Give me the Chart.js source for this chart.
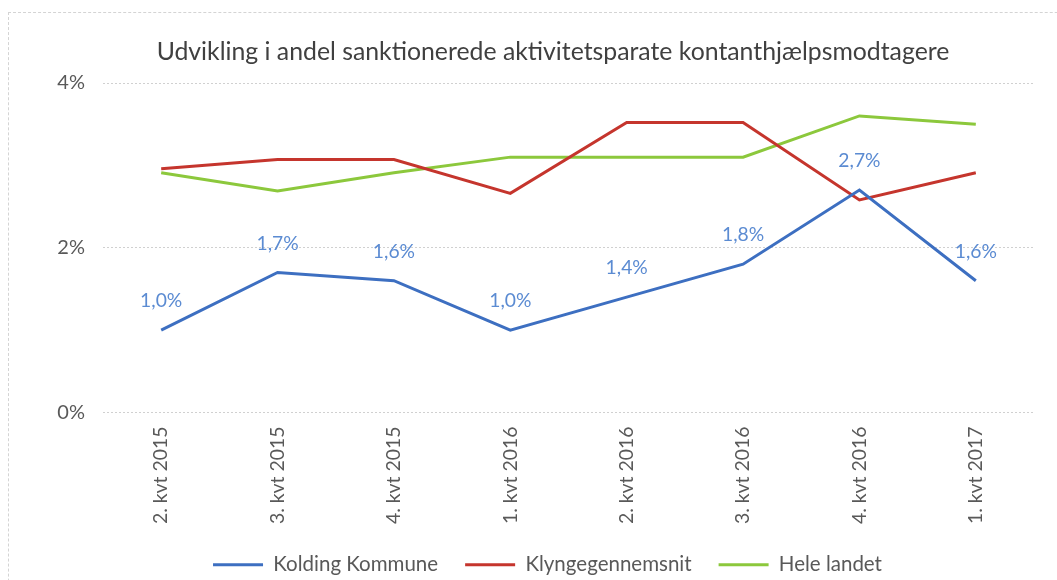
<!DOCTYPE html>
<html>
<head>
<meta charset="utf-8">
<script src="https://cdn.jsdelivr.net/npm/chart.js@4.4.1/dist/chart.umd.min.js"></script>
<style>
  html, body { margin: 0; padding: 0; background: #ffffff; }
  body { width: 1057px; height: 580px; position: relative; overflow: hidden; }
  #frame { position: absolute; left: 8px; top: 12px; width: 1200px; height: 700px; border: 1px dashed #d4d4d4; box-sizing: border-box; }
  #wrap { position: absolute; left: 0; top: 0; width: 1057px; height: 580px; }
</style>
</head>
<body>
<div id="frame"></div>
<div id="wrap"><canvas id="c" width="1057" height="580"></canvas></div>
<script>
const categories = ["2. kvt 2015", "3. kvt 2015", "4. kvt 2015", "1. kvt 2016", "2. kvt 2016", "3. kvt 2016", "4. kvt 2016", "1. kvt 2017"];
const kolding = [1.0, 1.7, 1.6, 1.0, 1.4, 1.8, 2.7, 1.6];
const klynge = [2.96, 3.07, 3.07, 2.66, 3.52, 3.52, 2.58, 2.91];
const heleLandet = [2.91, 2.69, 2.91, 3.10, 3.10, 3.10, 3.60, 3.50];
const yTicks = [0, 2, 4];
const seriesNames = ["Kolding Kommune", "Klyngegennemsnit", "Hele landet"];
const seriesColors = ["#3d6fc1", "#c5352d", "#8cc83c"];
const titleText = "Udvikling i andel sanktionerede aktivitetsparate kontanthjælpsmodtagere";

const FONT = "Lato, 'Open Sans', sans-serif";
const GRAY = "#595959";

const titlePlugin = {
  id: 'centredTitle',
  afterDraw(chart) {
    const ctx = chart.ctx;
    ctx.save();
    ctx.font = "24.8px " + FONT;
    ctx.fillStyle = "#404040";
    ctx.textAlign = "center";
    ctx.textBaseline = "middle";
    ctx.fillText(titleText, 553, 52);
    ctx.restore();
  }
};

const labelPlugin = {
  id: 'koldingLabels',
  afterDatasetsDraw(chart) {
    const ctx = chart.ctx;
    const yScale = chart.scales.y;
    const xScale = chart.scales.x;
    ctx.save();
    ctx.font = "19.3px " + FONT;
    ctx.fillStyle = "#5b8bd2";
    ctx.textAlign = "center";
    ctx.textBaseline = "middle";
    kolding.forEach((v, i) => {
      const x = xScale.getPixelForValue(i);
      const y = yScale.getPixelForValue(v);
      ctx.fillText(v.toFixed(1).replace('.', ',') + '%', x, y - 29);
    });
    ctx.restore();
  }
};

const mk = (name, data, color) => ({
  label: name,
  data: data,
  borderColor: color,
  backgroundColor: color,
  borderWidth: 3,
  pointRadius: 0,
  pointHoverRadius: 0,
  pointStyle: 'line',
  tension: 0,
  fill: false
});

new Chart(document.getElementById('c'), {
  type: 'line',
  data: {
    labels: categories,
    datasets: [
      mk(seriesNames[0], kolding, seriesColors[0]),
      mk(seriesNames[1], klynge, seriesColors[1]),
      mk(seriesNames[2], heleLandet, seriesColors[2])
    ]
  },
  options: {
    responsive: false,
    animation: false,
    events: [],
    layout: { padding: { left: 38, right: 0, top: 83, bottom: -5 } },
    plugins: {
      title: { display: false },
      legend: {
        display: true,
        position: 'bottom',
        labels: {
          usePointStyle: true,
          pointStyleWidth: 50,
          boxHeight: 3,
          color: GRAY,
          font: { family: FONT, size: 20.5 },
          padding: 27
        }
      },
      tooltip: { enabled: false }
    },
    scales: {
      x: {
        type: 'category',
        offset: true,
        grid: { display: false, drawTicks: false },
        border: { display: false },
        ticks: {
          color: GRAY,
          font: { family: FONT, size: 19.4 },
          minRotation: 90,
          maxRotation: 90,
          padding: 14,
          autoSkip: false
        },
        afterFit(scale) { scale.height = 115; }
      },
      y: {
        min: 0,
        max: 4,
        afterBuildTicks(scale) { scale.ticks = yTicks.map(v => ({ value: v })); },
        grid: {
          color: "#d0d0d0",
          lineWidth: 1,
          drawTicks: false
        },
        border: { display: false, dash: [2, 2] },
        ticks: {
          color: GRAY,
          font: { family: FONT, size: 20 },
          padding: 18,
          callback: v => v + '%'
        },
        afterFit(scale) { scale.width = 65; }
      },
      yRight: {
        position: 'right',
        min: 0,
        max: 4,
        grid: { display: false, drawTicks: false },
        border: { display: false },
        ticks: { display: false },
        afterFit(scale) { scale.width = 23; }
      }
    }
  },
  plugins: [labelPlugin, titlePlugin]
});
</script>
</body>
</html>
